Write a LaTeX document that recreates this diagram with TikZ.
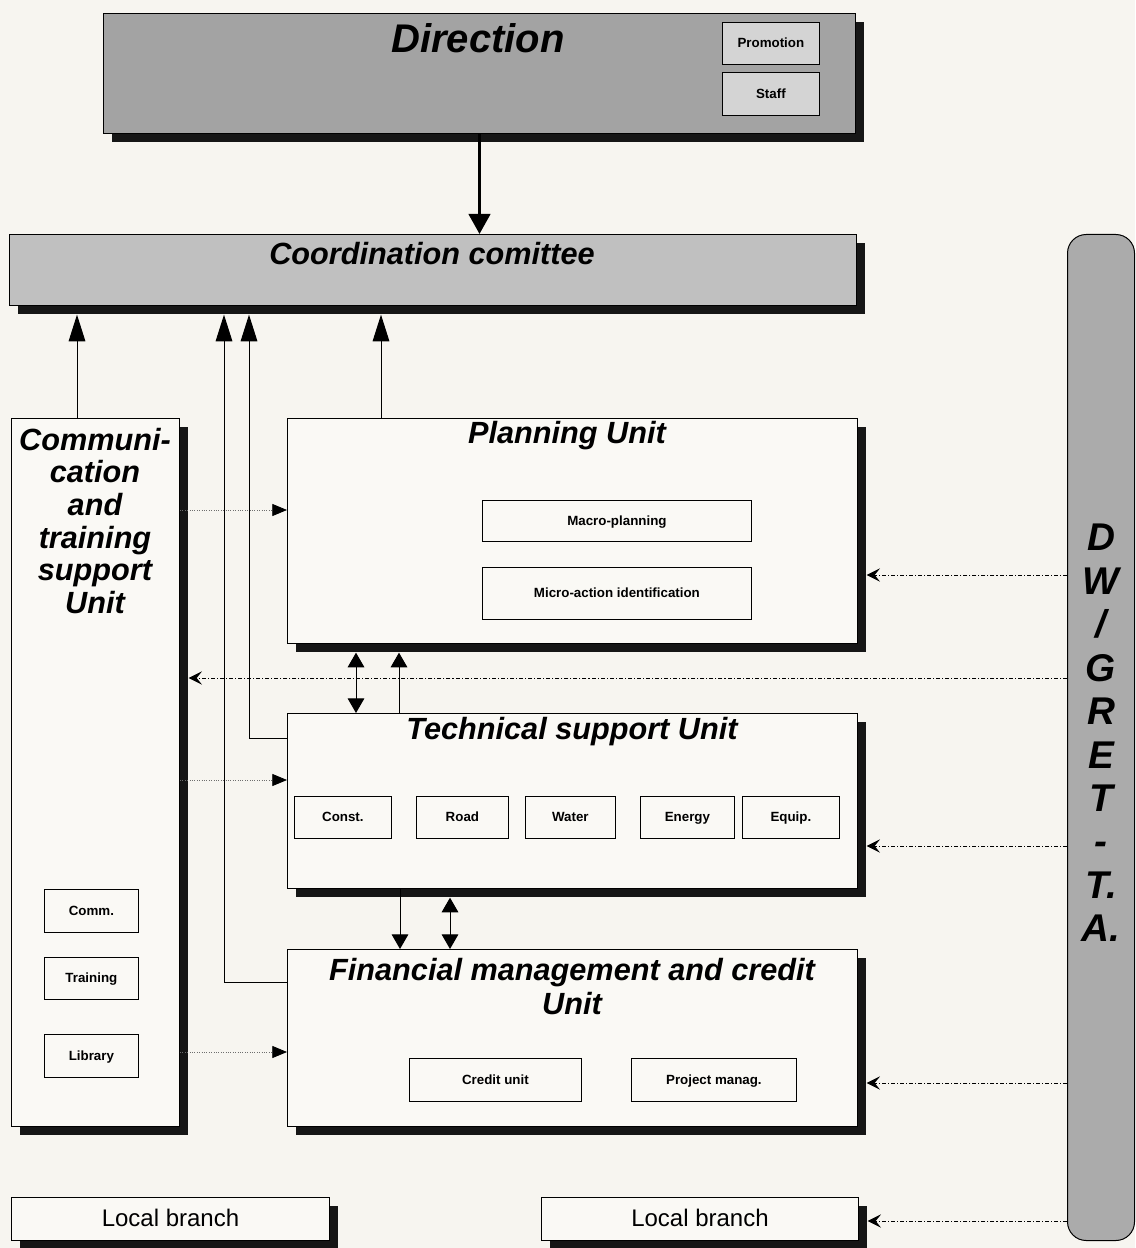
\documentclass[tikz,border=0pt]{standalone}
\usepackage{fontspec}
\setmainfont{Liberation Sans}
\usetikzlibrary{arrows.meta,shadows}

\tikzset{every picture/.style={line width=0.75pt}}
\tikzset{
  unit/.style={draw, anchor=north west, inner sep=0pt,
    fill={rgb, 255:red, 250; green, 249; blue, 245 },
    drop shadow={shadow xshift=6.5pt, shadow yshift=-6.5pt, opacity=1,
      fill={rgb, 255:red, 22; green, 22; blue, 22 }}},
  sub/.style={draw, line width=0.6pt, anchor=north west, inner sep=0pt,
    text height=7.4pt, text depth=1.2pt,
    font=\fontsize{10}{12}\selectfont\bfseries},
  title/.style={inner sep=0.75pt, align=center,
    font=\fontsize{23}{24.5}\selectfont\bfseries\itshape},
  branch/.style={text height=13pt, text depth=1.6pt, font=\fontsize{18}{20}\selectfont},
  bigarrow/.style={line width=2.5pt, -{Triangle[length=15pt,width=16pt]}},
  tallarrow/.style={-{Triangle[length=20pt,width=12.5pt]}, shorten >=6.5pt},
  link/.style={-{Triangle[length=11pt,width=12.5pt]}},
  twoway/.style={{Triangle[length=11pt,width=12.5pt]}-{Triangle[length=11pt,width=12.5pt]}},
  onshadow/.style={shorten >=6.5pt},
  dotlink/.style={draw={rgb, 255:red, 110; green, 110; blue, 110 }, line width=0.6pt,
    dash pattern={on 0.6pt off 1.2pt}, -{Triangle[length=11pt,width=9pt,color=black]}},
  dashlink/.style={line width=0.6pt, dash pattern={on 3pt off 1.5pt on 0.8pt off 1.5pt},
    -{Stealth[length=10pt,width=10pt,inset=4pt]}, shorten >=6.5pt}
}

\begin{document}
\begin{tikzpicture}[x=0.75pt,y=0.75pt,yscale=-1,xscale=1]
%Background
\fill [fill={rgb, 255:red, 247; green, 245; blue, 240 }] (0,0) rectangle (1135,1248);
\path [use as bounding box] (0,0) rectangle (1135,1248);

%Shape: Rectangle
\draw (103,13) node [unit, fill={rgb, 255:red, 163; green, 163; blue, 163 }, minimum width=564pt, minimum height=90pt] (dir) {};
%Shape: Rectangle
\draw (722,22) node [sub, fill={rgb, 255:red, 212; green, 212; blue, 212 }, minimum width=72.75pt, minimum height=31.5pt] (promo) {Promotion};
%Shape: Rectangle
\draw (722,72) node [sub, fill={rgb, 255:red, 212; green, 212; blue, 212 }, minimum width=72.75pt, minimum height=32.25pt] (staff) {Staff};
%Shape: Rectangle
\draw (9,234) node [unit, fill={rgb, 255:red, 192; green, 192; blue, 192 }, minimum width=635.25pt, minimum height=53.25pt] (coord) {};
%Shape: Rounded Rect
\draw (1067,234) node [draw, anchor=north west, inner sep=0pt, rounded corners=14pt, fill={rgb, 255:red, 171; green, 171; blue, 171 }, minimum width=50.25pt, minimum height=754.5pt] (dw) {};

%Shape: Rectangle
\draw (11,418) node [unit, minimum width=126pt, minimum height=531pt] (comm) {};
%Shape: Rectangle
\draw (287,418) node [unit, minimum width=427.5pt, minimum height=168.75pt] (plan) {};
%Shape: Rectangle
\draw (287,713) node [unit, minimum width=427.5pt, minimum height=131.25pt] (tech) {};
%Shape: Rectangle
\draw (287,949) node [unit, minimum width=427.5pt, minimum height=132.75pt] (fin) {};
%Shape: Rectangle
\draw (11,1197) node [unit, branch, minimum width=238.5pt, minimum height=32.25pt] (localA) {Local branch};
%Shape: Rectangle
\draw (541,1197) node [unit, branch, minimum width=237.75pt, minimum height=32.25pt] (localB) {Local branch};

%Shape: Rectangle
\draw (482,500) node [sub, minimum width=201.75pt, minimum height=30.75pt] (macro) {Macro-planning};
\draw (482,567) node [sub, minimum width=201.75pt, minimum height=39pt] (micro) {Micro-action identification};
%Shape: Rectangle
\draw (294,796) node [sub, minimum width=72.75pt, minimum height=31.5pt] (const) {Const.};
\draw (416,796) node [sub, minimum width=69pt, minimum height=31.5pt] (road) {Road};
\draw (525,796) node [sub, minimum width=67.5pt, minimum height=31.5pt] (water) {Water};
\draw (640,796) node [sub, minimum width=70.5pt, minimum height=31.5pt] (energy) {Energy};
\draw (742,796) node [sub, minimum width=72.75pt, minimum height=31.5pt] (equip) {Equip.};
%Shape: Rectangle
\draw (44,889) node [sub, minimum width=70.5pt, minimum height=32.25pt] (commbox) {Comm.};
\draw (44,957) node [sub, minimum width=70.5pt, minimum height=31.5pt] (train) {Training};
\draw (44,1034) node [sub, minimum width=70.5pt, minimum height=32.25pt] (library) {Library};
%Shape: Rectangle
\draw (409,1058) node [sub, minimum width=129pt, minimum height=32.25pt] (credit) {Credit unit};
\draw (631,1058) node [sub, minimum width=123.75pt, minimum height=32.25pt] (project) {Project manag.};

% Text Node
\draw (478,38) node [title, font=\fontsize{30}{36}\selectfont\bfseries\itshape] (dirtitle) {Direction};
% Text Node
\draw (432,254) node [title] (coordtitle) {Coordination comittee};
% Text Node
\draw (95,521) node [title] (commtitle) {Communi-\\cation\\and\\training\\support\\Unit};
% Text Node
\draw (567,436) node [title] (plantitle) {Planning Unit};
% Text Node
\draw (572,732) node [title] (techtitle) {Technical support Unit};
% Text Node
\draw (572,987) node [title, font=\fontsize{23}{25.5}\selectfont\bfseries\itshape] (fintitle) {Financial management and credit\\Unit};
% Text Node
\draw (1101,733) node [title, font=\fontsize{29}{32.6}\selectfont\bfseries\itshape] (dwtitle) {D\\W\\/\\G\\R\\E\\T\\-\\T.\\A.};

%Straight Lines
\draw [bigarrow] (dir.south) -- (dir.south |- coord.north);
%Straight Lines
\draw [tallarrow] (77,0 |- comm.north) -- (77,0 |- coord.south);
\draw [tallarrow] (fin.west |- 0,982) -| (224,0 |- coord.south);
\draw [tallarrow] (tech.west |- 0,738) -| (249,0 |- coord.south);
\draw [tallarrow] (381,0 |- plan.north) -- (381,0 |- coord.south);
%Straight Lines
\draw [twoway, onshadow] (356,0 |- tech.north) -- (356,0 |- plan.south);
\draw [link, onshadow] (399,0 |- tech.north) -- (399,0 |- plan.south);
\draw [link] (400,0 |- tech.south) -- (400,0 |- fin.north);
\draw [twoway, onshadow] (450,0 |- fin.north) -- (450,0 |- tech.south);
%Straight Lines
\draw [dotlink] (comm.east |- 0,510) -- (plan.west |- 0,510);
\draw [dotlink] (comm.east |- 0,780) -- (tech.west |- 0,780);
\draw [dotlink] (comm.east |- 0,1052) -- (fin.west |- 0,1052);
%Straight Lines
\draw [dashlink] (dw.west |- 0,575) -- (plan.east |- 0,575);
\draw [dashlink] (dw.west |- 0,678) -- (comm.east |- 0,678);
\draw [dashlink] (dw.west |- 0,846) -- (tech.east |- 0,846);
\draw [dashlink] (dw.west |- 0,1083) -- (fin.east |- 0,1083);
\draw [dashlink] (dw.west |- 0,1221) -- (localB.east |- 0,1221);

\end{tikzpicture}
\end{document}
